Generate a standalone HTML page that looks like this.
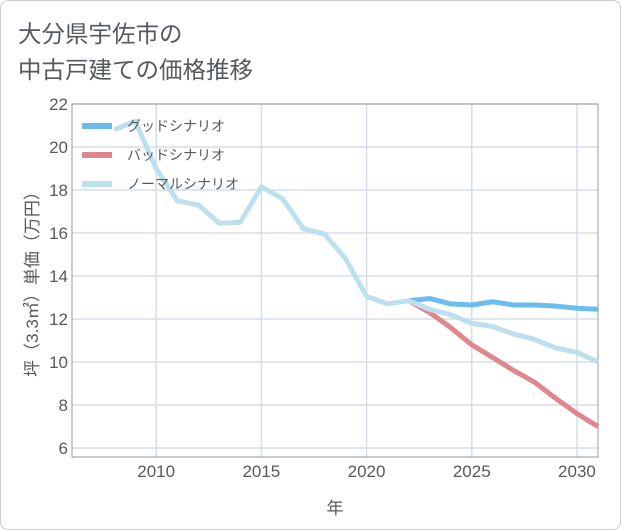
<!DOCTYPE html>
<html><head><meta charset="utf-8"><style>
body{margin:0;background:#fff;font-family:"Liberation Sans","Noto Sans CJK JP",sans-serif;}
#card{position:absolute;left:0;top:0;width:619px;height:528px;border:1px solid #ccc;border-radius:8px;background:#fff;}
</style></head><body>
<div id="card"></div>
<svg id="c" width="621" height="530" style="position:absolute;left:0;top:0">
<text x="18" y="42" font-size="23.5" fill="#555a60">大分県宇佐市の</text>
<text x="18" y="78" font-size="23.5" fill="#555a60">中古戸建ての価格推移</text>
</svg>
<script>
const years=[2008,2009,2010,2011,2012,2013,2014,2015,2016,2017,2018,2019,2020,2021,2022,2023,2024,2025,2026,2027,2028,2029,2030,2031];
const normal=[20.8,21.2,19.0,17.5,17.3,16.45,16.5,18.15,17.6,16.2,15.95,14.8,13.05,12.7,12.85,12.45,12.2,11.8,11.65,11.3,11.05,10.65,10.45,10.0];
const fyears=[2022,2023,2024,2025,2026,2027,2028,2029,2030,2031];
const good=[12.85,12.95,12.7,12.65,12.8,12.65,12.65,12.6,12.5,12.45];
const bad=[12.85,12.3,11.6,10.8,10.2,9.6,9.05,8.3,7.6,7.0];
const xTicks=[2010,2015,2020,2025,2030];
const yTicks=[6,8,10,12,14,16,18,20,22];
const L=72,R=598,T=104,B=457,x0=2006,x1=2031,y0=5.58,y1=22;
const X=v=>L+(v-x0)/(x1-x0)*(R-L), Y=v=>B-(v-y0)/(y1-y0)*(B-T);
const svg=document.getElementById('c'),NS='http://www.w3.org/2000/svg';
function mk(t,a,p){const e=document.createElementNS(NS,t);for(const k in a)e.setAttribute(k,a[k]);(p||svg).appendChild(e);return e;}
for(const t of yTicks){const g=mk('line',{x1:L,x2:R,y1:Y(t),y2:Y(t),stroke:'#d5dde6','stroke-width':1.5});

const tx=mk('text',{x:L-4,y:Y(t)+6,'text-anchor':'end','font-size':17,fill:'#555a60'});tx.textContent=t;
}
for(const t of xTicks){const g=mk('line',{x1:X(t),x2:X(t),y1:T,y2:B,stroke:'#d5dde6','stroke-width':1.5});

const tx=mk('text',{x:X(t),y:B+20,'text-anchor':'middle','font-size':17,fill:'#555a60'});tx.textContent=t;
}
const fr=mk('rect',{x:L,y:T,width:R-L,height:B-T,fill:'none',stroke:'#999','stroke-width':1});

function line(xs,ys,c,name){const p=mk('polyline',{points:xs.map((v,i)=>X(v)+','+Y(ys[i])).join(' '),fill:'none',stroke:c,'stroke-width':5,'stroke-linejoin':'round'});
}
line(fyears,good,'#6bbdf0','good-scenario-line');
line(fyears,bad,'#e0868e','bad-scenario-line');
line(years,normal,'#bde0ee','normal-scenario-line');
const leg=[['グッドシナリオ','#6bbdf0',126],['バッドシナリオ','#e0868e',155],['ノーマルシナリオ','#bde0ee',184]];
for(const [n,c,y] of leg){const g=mk('g',{});
mk('rect',{x:82,y:y-3,width:30,height:6,fill:c},g);
const t=mk('text',{x:127,y:y+5,'font-size':14,fill:'#555a60'},g);t.textContent=n;}
const xt=mk('text',{x:335,y:514,'text-anchor':'middle','font-size':17,fill:'#555a60'});xt.textContent='年';

const yt=mk('text',{x:0,y:0,'text-anchor':'middle','font-size':17,fill:'#555a60',transform:'translate(38,280) rotate(-90)'});yt.textContent='坪（3.3㎡）単価（万円）';

</script>
</body></html>
